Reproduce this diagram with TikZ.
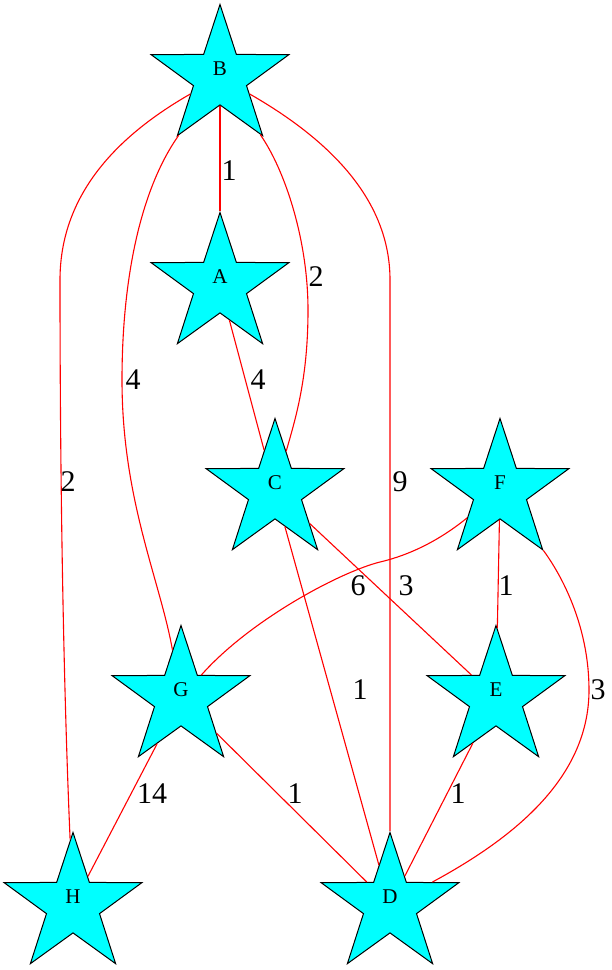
\documentclass[tikz,border=0pt]{standalone}
\usepackage{fontspec}
\setmainfont{Liberation Serif}
\usetikzlibrary{shapes.geometric}

\definecolor{aqua}{RGB}{0,255,255}
\definecolor{edgered}{RGB}{255,0,0}

\tikzset{
  vert/.style={star, star points=5, star point ratio=2.6, minimum size=145pt,
    inner sep=0pt, draw=black, line width=1pt, fill=aqua,
    label={[font=\fontsize{21}{21}\selectfont, yshift=8pt]center:#1}},
  link/.style={draw=edgered, line width=1.1pt},
  wlab/.style={font=\fontsize{30}{30}\selectfont, inner sep=0pt}
}

\begin{document}
\begin{tikzpicture}[x=1pt, y=-1pt]

\useasboundingbox (0,0) rectangle (612,970);

\foreach \n/\x/\y in {B/220/77, A/220/285, C/275/491, F/500/491,
                      G/181/698, E/496/698, H/73/905, D/390/905}
    \node [vert=\n] (\n) at (\x,\y) {};

% straight edges
\draw [link] (B) -- (A);
\draw [link] (A) -- (C);
\draw [link] (C) -- (E);
\draw [link] (C) -- (D);
\draw [link] (F) -- (E);
\draw [link] (G) -- (H);
\draw [link] (G) -- (D);
\draw [link] (E) -- (D);

% curved edges
\draw [link] (B) .. controls (285,170) and (308,240) .. (308,310)
                 .. controls (308,380) and (295,420) .. (C);
\draw [link] (B) .. controls (140,190) and (122,280) .. (122,380)
                 .. controls (122,500) and (160,580) .. (G);
\draw [link] (B) .. controls (110,140) and (60,200) .. (60,280)
                 .. controls (60,500) and (64,700) .. (H);
\draw [link] (B) .. controls (330,140) and (390,200) .. (390,280) -- (D);
\draw [link] (F) .. controls (440,540) and (410,555) .. (380,562)
                 .. controls (340,572) and (250,620) .. (G);
\draw [link] (F) .. controls (565,580) and (589,630) .. (589,690)
                 .. controls (589,780) and (510,840) .. (D);

% weights
\foreach \l/\x/\y/\t in {lBA/229/171/1, lBC/316/277/2, lAC/258/380/4,
                         lBG/133/380/4, lBH/68/482/2, lBD/400/482/9,
                         lFG/358/586/6, lCE/406/586/3, lFE/506/586/1,
                         lCD/360/690/1, lFD/598/690/3, lGH/152/794/14,
                         lGD/295/794/1, lED/458/794/1}
    \node [wlab] (\l) at (\x,\y) {\t};

\end{tikzpicture}
\end{document}
